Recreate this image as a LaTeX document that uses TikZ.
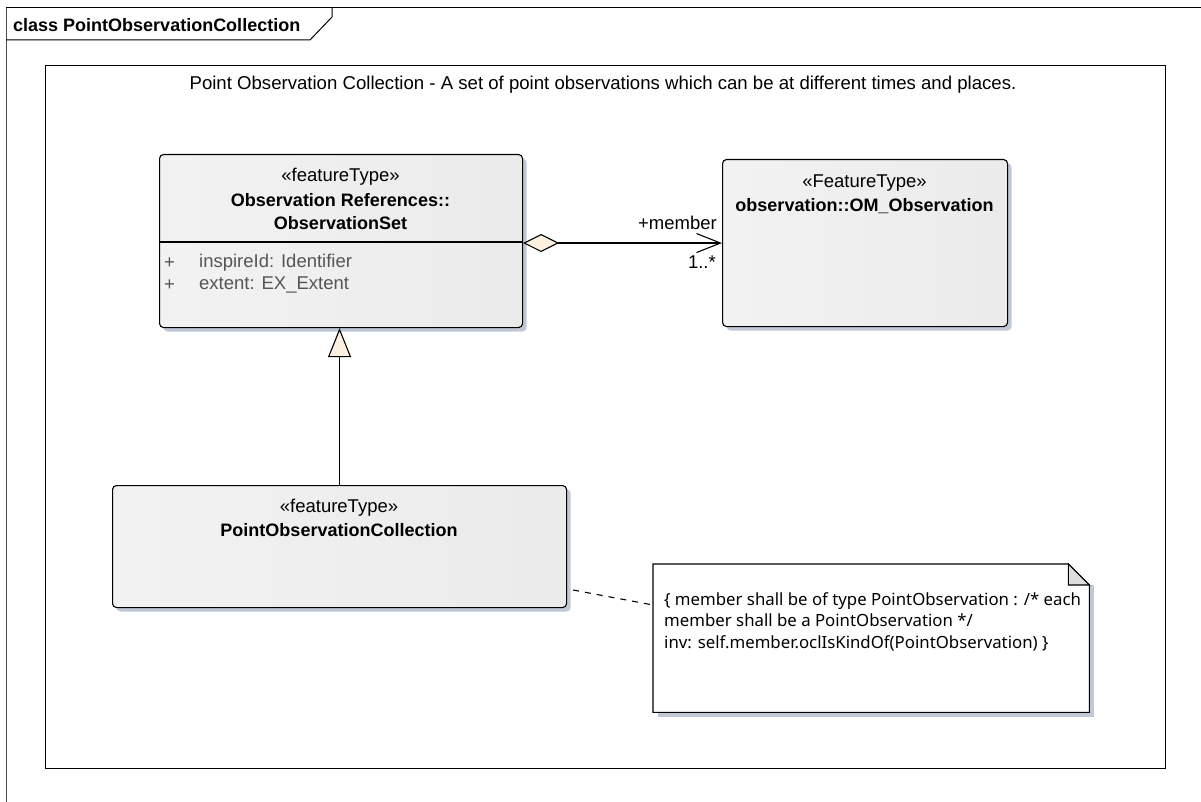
\documentclass[tikz,border=0pt]{standalone}
\usepackage{fontspec}
\setmainfont{Liberation Sans}
\newfontfamily\notefont{Noto Sans}
\usetikzlibrary{shadows,arrows.meta,calc}
\definecolor{shadowcol}{RGB}{192,199,214}
\definecolor{cream}{RGB}{252,241,224}
\definecolor{attrgray}{RGB}{85,85,85}
\definecolor{foldgray}{RGB}{222,222,222}
\begin{document}
\begin{tikzpicture}[x=1pt,y=-1pt,
  classbox/.style={draw=black, line width=1.1pt, rounded corners=4pt, inner sep=0pt,
    anchor=north west, left color=gray!10, middle color=white, right color=gray!16,
    drop shadow={fill=shadowcol, opacity=1, shadow xshift=4pt, shadow yshift=-4pt}},
  stereo/.style={font=\fontsize{18.5}{21}\selectfont, inner sep=0pt},
  cname/.style={font=\fontsize{18}{23}\selectfont\bfseries, inner sep=0pt, align=center},
  attr/.style={font=\fontsize{18.5}{21}\selectfont, text=attrgray, inner sep=0pt, anchor=west},
  role/.style={font=\fontsize{18.5}{21}\selectfont, inner sep=0pt, anchor=east}]
\useasboundingbox (0,0) rectangle (1201,802);

% outer frame and tab
\draw[line width=1pt] (1201,8) -- (6,8);
\draw[line width=1pt, gray!60!black] (6,8) -- (6,802);
\draw[line width=1pt] (6,40) -- (310,40) -- (332,17) -- (332,8);
\node[anchor=west, inner sep=0pt, font=\fontsize{18}{20}\selectfont\bfseries] (tabtxt) at (13,25) {class PointObservationCollection};

% boundary
\node[draw, line width=1.1pt, anchor=north west, inner sep=0pt, minimum width=1120pt, minimum height=703pt] (bound) at (45,65) {};
\node[inner sep=0pt, font=\fontsize{18.6}{21}\selectfont] (btitle) at (603,85) {Point Observation Collection - A set of point observations which can be at different times and places.};

% ObservationSet
\node[classbox, minimum width=363pt, minimum height=173pt] (obsset) at (159,154) {};
\node[stereo] (obsster) at (340.5,177) {«featureType»};
\node[cname] (obsname) at (340.5,211.5) {Observation References::\\ObservationSet};
\draw[line width=1.1pt] (obsset.west |- 0,242) -- (obsset.east |- 0,242);
\node[attr] (a1p) at (164,263) {+};
\node[attr] (a1) at (199,263) {inspireId: Identifier};
\node[attr] (a2p) at (164,285) {+};
\node[attr] (a2) at (199,285) {extent: EX\_Extent};

% OM_Observation
\node[classbox, minimum width=285pt, minimum height=167pt] (om) at (722,159) {};
\node[stereo] (omster) at (864.5,183) {«FeatureType»};
\node[cname] (omname) at (864.5,206) {observation::OM\_Observation};

% PointObservationCollection
\node[classbox, minimum width=454pt, minimum height=122pt] (poc) at (112,485) {};
\node[stereo] (pocster) at (339,508) {«featureType»};
\node[cname] (pocname) at (339,530) {PointObservationCollection};

% aggregation
\draw[line width=1.1pt, {Diamond[length=36pt, width=18pt, fill=cream, line width=1.1pt]}-{Straight Barb[length=24pt, width=19pt, line width=1.1pt]}]
  (obsset.east |- om.west) -- (om.west);
\node[role] (member) at (717,223) {+member};
\node[role] (mult) at (716,262) {1..*};

% generalization
\draw[line width=1.1pt, -{Triangle[length=29pt, width=23pt, fill=cream, line width=1.1pt]}]
  (poc.north) -- (poc.north |- obsset.south);

% note
\node[anchor=north west, inner sep=0pt, minimum width=436pt, minimum height=148pt] (note) at (653,564) {};
\fill[shadowcol] ($(note.north east)+(0,21)$) rectangle ($(note.south east)+(5,5)$);
\fill[shadowcol] ($(note.south west)+(5,0)$) rectangle ($(note.south east)+(5,5)$);
\draw[line width=1.1pt, fill=white] (note.north west) -- ($(note.north east)+(-21,0)$) -- ($(note.north east)+(0,21)$) -- (note.south east) -- (note.south west) -- cycle;
\draw[line width=1.1pt, fill=foldgray] ($(note.north east)+(-21,0)$) -- ($(note.north east)+(-21,21)$) -- ($(note.north east)+(0,21)$) -- cycle;
\node[anchor=north west, inner sep=0pt, align=left, font=\notefont\fontsize{16.8}{21.5}\selectfont] (notetxt) at (664,592)
  {\{ member shall be of type PointObservation : /* each\\member shall be a PointObservation */\\inv: self.member.oclIsKindOf(PointObservation) \}};

% anchor link
\draw[line width=1.1pt, dash pattern=on 6pt off 6pt] (poc.east |- 0,590) ++(6,0) -- (note.west |- 0,605);
\end{tikzpicture}
\end{document}
